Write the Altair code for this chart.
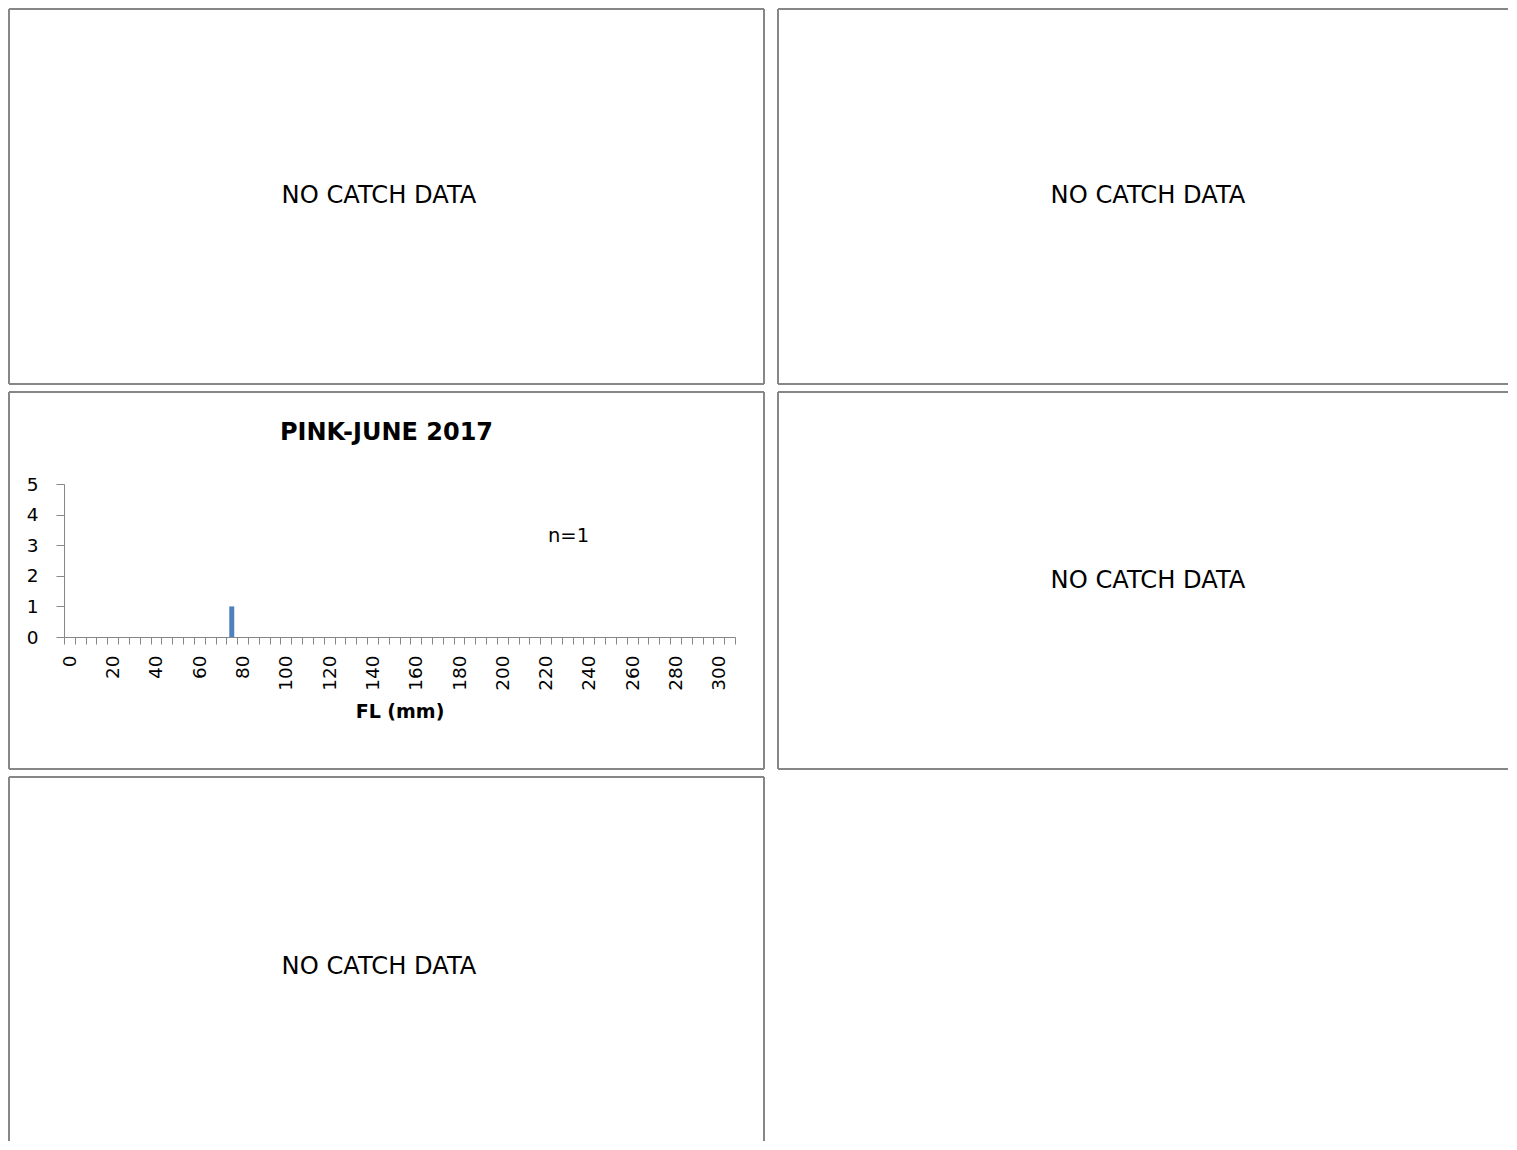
import altair as alt
import pandas as pd

# ---- data ----
no_data_message = "NO CATCH DATA"
pink_title = "PINK-JUNE 2017"
pink_note = "n=1"
fl_mm = [75]          # lower edge of the 5-mm fork-length bin
fish_count = [1]
x_tick_values = [0, 5, 10, 15, 20, 25, 30, 35, 40, 45, 50, 55, 60, 65, 70, 75, 80, 85, 90,
                 95, 100, 105, 110, 115, 120, 125, 130, 135, 140, 145, 150, 155, 160, 165,
                 170, 175, 180, 185, 190, 195, 200, 205, 210, 215, 220, 225, 230, 235, 240,
                 245, 250, 255, 260, 265, 270, 275, 280, 285, 290, 295, 300, 305, 310]
x_label_values = [0, 20, 40, 60, 80, 100, 120, 140, 160, 180, 200, 220, 240, 260, 280, 300]
y_tick_values = [0, 1, 2, 3, 4, 5]
x_title = "FL (mm)"

# ---- styling ----
FONT = "DejaVu Sans"
GRAY = "#878787"
W = 755                  # left column panels
W2 = 730                 # right column (cut by the page edge)
H1, H2, H3 = 375, 377, 364
SMALL = 18.5
BODY = 24.2
TITLE = 24


def border(w, h, sides):
    segs = {
        "top": dict(x=alt.value(0), x2=alt.value(w), y=alt.value(0)),
        "bottom": dict(x=alt.value(0), x2=alt.value(w), y=alt.value(h)),
        "left": dict(x=alt.value(0), y=alt.value(0), y2=alt.value(h)),
        "right": dict(x=alt.value(w), y=alt.value(0), y2=alt.value(h)),
    }
    return [
        alt.Chart(pd.DataFrame({"k": [s]}))
        .mark_rule(color=GRAY, strokeWidth=2)
        .encode(**segs[s])
        for s in sides
    ]


def no_catch_panel(w, h, sides, text_y):
    msg = (
        alt.Chart(pd.DataFrame({"msg": [no_data_message]}))
        .mark_text(font=FONT, fontSize=BODY, color="black", align="center", baseline="alphabetic")
        .encode(x=alt.value(370), y=alt.value(text_y), text="msg:N")
    )
    return alt.layer(msg, *border(w, h, sides)).properties(width=w, height=h)


label_list = ",".join(str(v) for v in x_label_values)
bars = (
    alt.Chart(pd.DataFrame({"fl": fl_mm, "count": fish_count}))
    .transform_calculate(x1="datum.fl + 1.35", x2="datum.fl + 3.65", base="0")
    .mark_bar(color="#4F81BD")
    .encode(
        x=alt.X(
            "x1:Q",
            scale=alt.Scale(domain=[0, 310], range=[55, 726], nice=False, zero=False),
            axis=alt.Axis(
                values=x_tick_values,
                labelExpr=f"indexof([{label_list}], datum.value) >= 0 ? datum.label : ''",
                labelAngle=270,
                labelOffset=5.41,
                labelFont=FONT,
                labelFontSize=SMALL,
                labelColor="black",
                labelFlush=False,
                labelOverlap=False,
                labelPadding=11,
                tickSize=7,
                tickColor=GRAY,
                tickWidth=1,
                domainColor=GRAY,
                domainWidth=1,
                grid=False,
                offset=-132,
                title=x_title,
                titleFont=FONT,
                titleFontSize=19,
                titleFontWeight="bold",
                titleColor="black",
                titleY=80,
                titleBaseline="alphabetic",
            ),
        ),
        x2="x2:Q",
        y=alt.Y(
            "count:Q",
            scale=alt.Scale(domain=[0, 5], range=[245, 92], nice=False),
            axis=alt.Axis(
                values=y_tick_values,
                offset=-55,
                tickSize=8,
                tickColor=GRAY,
                tickWidth=1,
                domainColor=GRAY,
                domainWidth=1,
                labelPadding=18,
                labelFont=FONT,
                labelFontSize=SMALL,
                labelColor="black",
                grid=False,
                title="",
            ),
        ),
        y2="base:Q",
    )
)

title_text = (
    alt.Chart(pd.DataFrame({"t": [pink_title]}))
    .mark_text(font=FONT, fontSize=TITLE, fontWeight="bold", color="black",
               align="center", baseline="alphabetic")
    .encode(x=alt.value(W / 2), y=alt.value(48), text="t:N")
)
note_text = (
    alt.Chart(pd.DataFrame({"t": [pink_note]}))
    .mark_text(font=FONT, fontSize=19.5, color="black", align="center", baseline="alphabetic")
    .encode(x=alt.value(559.5), y=alt.value(150), text="t:N")
)

pink_panel = alt.layer(bars, title_text, note_text,
                       *border(W, H2, ["top", "bottom", "left", "right"])).properties(width=W, height=H2)

chart = (
    alt.vconcat(
        alt.hconcat(no_catch_panel(W, H1, ["top", "bottom", "left", "right"], 194.3),
                    no_catch_panel(W2, H1, ["top", "bottom", "left"], 194.3), spacing=12),
        alt.hconcat(pink_panel, no_catch_panel(W2, H2, ["top", "bottom", "left"], 196.3), spacing=12),
        no_catch_panel(W, H3, ["top", "left", "right"], 197.3),
        spacing=6,
    )
    .properties(padding=0)
    .configure_view(strokeWidth=0)
)

chart.save("out.html", embed_options={"renderer": "svg", "actions": False})
